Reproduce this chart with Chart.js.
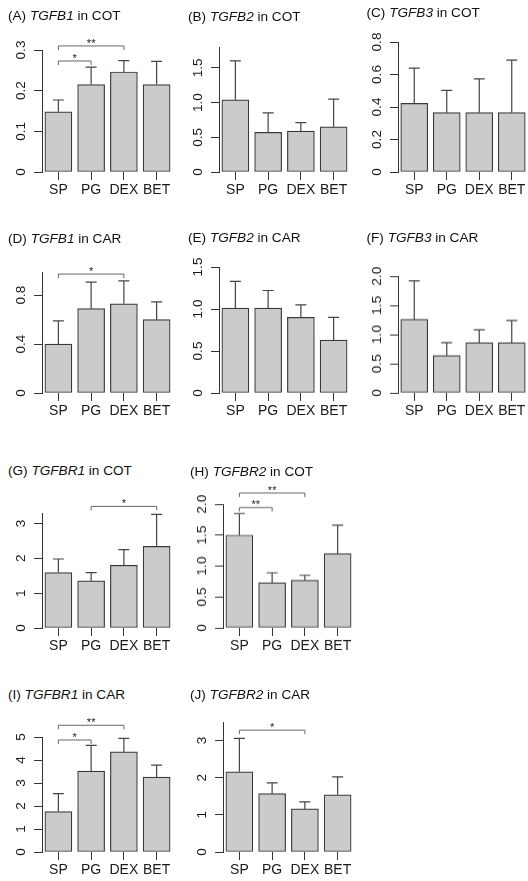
<!DOCTYPE html>
<html lang="en">
<head>
<meta charset="UTF-8">
<title>TGFB expression</title>
<script src="https://cdn.jsdelivr.net/npm/chart.js"></script>
<style>
  body { margin:0; background:#fff; width:528px; height:881px; overflow:hidden; position:relative;
         font-family:"Liberation Sans", Arial, sans-serif; }
  canvas { position:absolute; }
  .ttl { position:absolute; font-size:13.6px; line-height:14px; color:#111; white-space:nowrap; z-index:2; }
</style>
</head>
<body>
<script>
// group labels
const groups = ["SP", "PG", "DEX", "BET"];

// means and SD
const tgfb1Cot = [0.148, 0.215, 0.246, 0.215];
const tgfb1CotSd = [0.029, 0.043, 0.028, 0.057];
const tgfb2Cot = [1.04, 0.57, 0.59, 0.65];
const tgfb2CotSd = [0.56, 0.28, 0.12, 0.40];
const tgfb3Cot = [0.422, 0.365, 0.365, 0.365];
const tgfb3CotSd = [0.217, 0.137, 0.208, 0.323];
const tgfb1Car = [0.40, 0.69, 0.73, 0.60];
const tgfb1CarSd = [0.19, 0.217, 0.188, 0.146];
const tgfb2Car = [1.01, 1.01, 0.90, 0.63];
const tgfb2CarSd = [0.32, 0.21, 0.15, 0.27];
const tgfb3Car = [1.26, 0.64, 0.86, 0.86];
const tgfb3CarSd = [0.66, 0.22, 0.22, 0.38];
const tgfbr1Cot = [1.59, 1.35, 1.80, 2.34];
const tgfbr1CotSd = [0.39, 0.24, 0.45, 0.92];
const tgfbr2Cot = [1.50, 0.73, 0.77, 1.20];
const tgfbr2CotSd = [0.35, 0.16, 0.08, 0.46];
const tgfbr1Car = [1.76, 3.52, 4.35, 3.26];
const tgfbr1CarSd = [0.78, 1.12, 0.59, 0.52];
const tgfbr2Car = [2.16, 1.57, 1.16, 1.54];
const tgfbr2CarSd = [0.90, 0.29, 0.19, 0.48];

// significance brackets: [from, to, height, label]
const sigA = [[0, 1, 0.273, "*"], [0, 2, 0.31, "**"]];
const sigD = [[0, 2, 0.973, "*"]];
const sigG = [[1, 3, 3.49, "*"]];
const sigH = [[0, 1, 1.946, "**"], [0, 2, 2.18, "**"]];
const sigI = [[0, 1, 4.87, "*"], [0, 2, 5.51, "**"]];
const sigJ = [[0, 2, 3.28, "*"]];

const panels = [
  { title: '(A) <i>TGFB1</i> in COT', tx: 8, ty: 9, axisX: 41.7, base: 172.3, h: 122.3, w: 131, max: 0.3, step: 0.1, mean: tgfb1Cot, sd: tgfb1CotSd, sig: sigA },
  { title: '(B) <i>TGFB2</i> in COT', tx: 188, ty: 9.5, axisX: 219.3, base: 172.3, h: 125.6, w: 131, max: 1.8, step: 0.5, mean: tgfb2Cot, sd: tgfb2CotSd, sig: [] },
  { title: '(C) <i>TGFB3</i> in COT', tx: 366.5, ty: 6, axisX: 397.7, base: 172.3, h: 130.6, w: 130.3, max: 0.8, step: 0.2, mean: tgfb3Cot, sd: tgfb3CotSd, sig: [] },
  { title: '(D) <i>TGFB1</i> in CAR', tx: 8, ty: 232, axisX: 41.7, base: 392.7, h: 121, w: 131, max: 0.99, step: 0.4, mean: tgfb1Car, sd: tgfb1CarSd, sig: sigD },
  { title: '(E) <i>TGFB2</i> in CAR', tx: 188, ty: 231, axisX: 219.3, base: 392.7, h: 126, w: 131, max: 1.5, step: 0.5, mean: tgfb2Car, sd: tgfb2CarSd, sig: [] },
  { title: '(F) <i>TGFB3</i> in CAR', tx: 366.5, ty: 231, axisX: 397.7, base: 392.7, h: 116.7, w: 130.3, max: 2.0, step: 0.5, mean: tgfb3Car, sd: tgfb3CarSd, sig: [] },
  { title: '(G) <i>TGFBR1</i> in COT', tx: 8, ty: 464, axisX: 41.7, base: 627.7, h: 115, w: 131, max: 3.3, step: 1, mean: tgfbr1Cot, sd: tgfbr1CotSd, sig: sigG },
  { title: '(H) <i>TGFBR2</i> in COT', tx: 190, ty: 464.5, axisX: 222.7, base: 627.7, h: 123.4, w: 131, max: 2.0, step: 0.5, mean: tgfbr2Cot, sd: tgfbr2CotSd, sig: sigH },
  { title: '(I) <i>TGFBR1</i> in CAR', tx: 8, ty: 688, axisX: 41.7, base: 851.7, h: 115, w: 131, max: 5, step: 1, mean: tgfbr1Car, sd: tgfbr1CarSd, sig: sigI },
  { title: '(J) <i>TGFBR2</i> in CAR', tx: 190, ty: 688, axisX: 223.3, base: 851.7, h: 130, w: 131, max: 3.5, step: 1, mean: tgfbr2Car, sd: tgfbr2CarSd, sig: sigJ }
];

const LEFT = 44, TOP = 32, BOTTOM = 30, RIGHT = 4;
const INK = "#333";
const FONT = '"Liberation Sans", Arial, sans-serif';

// error bars, rotated y labels and brackets
const extras = {
  id: "extras",
  afterDatasetsDraw(chart) {
    const p = chart.config.options.panel;
    const x = chart.scales.x, y = chart.scales.y, ctx = chart.ctx;
    ctx.save();
    ctx.strokeStyle = "#444";
    ctx.lineWidth = 1.2;
    p.mean.forEach((m, i) => {
      const cx = x.getPixelForValue(i);
      const y1 = y.getPixelForValue(m), y2 = y.getPixelForValue(m + p.sd[i]);
      ctx.beginPath();
      ctx.moveTo(cx, y1); ctx.lineTo(cx, y2);
      ctx.moveTo(cx - 5.5, y2); ctx.lineTo(cx + 5.5, y2);
      ctx.stroke();
    });
    ctx.restore();
  },
  afterDraw(chart) {
    const p = chart.config.options.panel;
    const x = chart.scales.x, y = chart.scales.y, ctx = chart.ctx;
    ctx.save();
    // y tick labels, parallel to the axis
    const dec = p.step < 1 ? (String(p.step).split(".")[1] || "").length : 0;
    ctx.fillStyle = "#1a1a1a";
    ctx.font = "13.5px " + FONT;
    ctx.textAlign = "center";
    ctx.textBaseline = "middle";
    y.ticks.forEach(t => {
      const py = y.getPixelForValue(t.value);
      const txt = t.value === 0 ? "0" : t.value.toFixed(dec);
      ctx.save();
      ctx.translate(chart.chartArea.left - 21, py);
      ctx.rotate(-Math.PI / 2);
      ctx.fillText(txt, 0, 0);
      ctx.restore();
    });
    // brackets
    ctx.strokeStyle = "#666";
    ctx.lineWidth = 1;
    ctx.font = "11px " + FONT;
    ctx.textBaseline = "alphabetic";
    p.sig.forEach(([a, b, v, lab]) => {
      const xa = x.getPixelForValue(a), xb = x.getPixelForValue(b), py = y.getPixelForValue(v);
      ctx.beginPath();
      ctx.moveTo(xa, py + 4); ctx.lineTo(xa, py); ctx.lineTo(xb, py); ctx.lineTo(xb, py + 4);
      ctx.stroke();
      ctx.fillText(lab, (xa + xb) / 2, py + 1);
    });
    ctx.restore();
  }
};

panels.forEach(p => {
  const t = document.createElement("div");
  t.className = "ttl";
  t.innerHTML = p.title;
  t.style.left = p.tx + "px";
  t.style.top = p.ty + "px";
  document.body.appendChild(t);

  const cv = document.createElement("canvas");
  const W = LEFT + p.w + RIGHT, H = TOP + p.h + BOTTOM;
  cv.width = W; cv.height = H;
  cv.style.width = W + "px"; cv.style.height = H + "px";
  cv.style.left = (p.axisX - LEFT) + "px";
  cv.style.top = (p.base - p.h - TOP) + "px";
  document.body.appendChild(cv);

  new Chart(cv, {
    type: "bar",
    data: {
      labels: groups,
      datasets: [{
        data: p.mean,
        backgroundColor: "#cbcbcb",
        borderColor: "#3a3a3a",
        borderWidth: 1.2,
        borderSkipped: false,
        barThickness: 27
      }]
    },
    options: {
      panel: p,
      responsive: false,
      animation: false,
      layout: { padding: { top: TOP, right: RIGHT, left: 0, bottom: 0 } },
      plugins: { legend: { display: false }, tooltip: { enabled: false } },
      scales: {
        x: {
          afterFit: s => { s.height = BOTTOM; },
          border: { display: false },
          grid: { drawOnChartArea: false, drawTicks: true, tickLength: 8, offset: false, color: INK },
          ticks: { color: "#1a1a1a", font: { family: FONT, size: 14 }, padding: 1.5, autoSkip: false, maxRotation: 0 }
        },
        y: {
          min: 0,
          max: p.max,
          afterFit: s => { s.width = LEFT; },
          border: { display: true, color: INK, width: 1 },
          grid: { drawOnChartArea: false, drawTicks: true, tickLength: 8, color: INK },
          ticks: { display: false, stepSize: p.step, includeBounds: false }
        }
      }
    },
    plugins: [extras]
  });
});
</script>
</body>
</html>
